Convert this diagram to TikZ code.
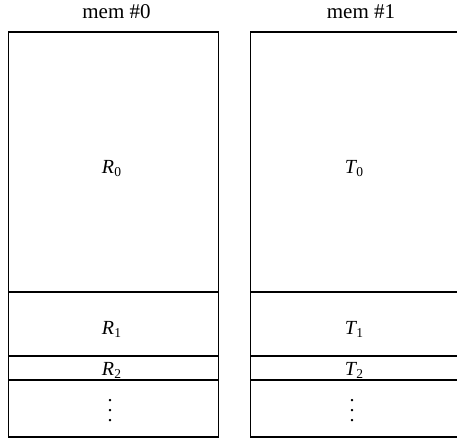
\documentclass[tikz,border=0pt]{standalone}
\usepackage{fontspec}
\setmainfont{Liberation Serif}
\newcommand{\lab}[3]{\textit{#1}\kern#3\raisebox{-3pt}{\fontsize{13.5}{14}\selectfont #2}}
\newcommand{\dotstack}{\vbox{\offinterlineskip\hbox{.}\kern8pt\hbox{.}\kern8pt\hbox{.}}}
\begin{document}
\begin{tikzpicture}[x=1pt,y=-1pt,
  cell/.style={draw=black,line width=1.1pt},
  hdr/.style={inner sep=0pt,font=\fontsize{21}{24}\selectfont},
  lbl/.style={inner sep=0pt,font=\fontsize{20}{24}\selectfont},
  dotsnode/.style={inner sep=0pt,font=\fontsize{20}{24}\selectfont}]
\useasboundingbox (0,0) rectangle (457,442);
% left column
\draw[cell] (8.5,32) rectangle (218.5,437);
\draw[cell] (8.5,292) -- (218.5,292);
\draw[cell] (8.5,356) -- (218.5,356);
\draw[cell] (8.5,380) -- (218.5,380);
% right column
\draw[cell] (250.5,32) rectangle (462,437);
\draw[cell] (250.5,292) -- (462,292);
\draw[cell] (250.5,356) -- (462,356);
\draw[cell] (250.5,380) -- (462,380);
\node[hdr] (h0) at (116.5,11.5) {mem \#0};
\node[hdr] (h1) at (361,11.5) {mem \#1};
\node[lbl] (r0) at (111.5,169) {\lab{R}{0}{0.5pt}};
\node[lbl] (r1) at (111.5,329.5) {\lab{R}{1}{0.5pt}};
\node[lbl] (r2) at (111.5,370) {\lab{R}{2}{0.5pt}};
\node[lbl] (t0) at (354,169) {\lab{T}{0}{-1pt}};
\node[lbl] (t1) at (354,329.5) {\lab{T}{1}{-1pt}};
\node[lbl] (t2) at (354,370) {\lab{T}{2}{-1pt}};
\node[dotsnode] (rd) at (110,410.5) {\dotstack};
\node[dotsnode] (td) at (352,410.5) {\dotstack};
\end{tikzpicture}
\end{document}
